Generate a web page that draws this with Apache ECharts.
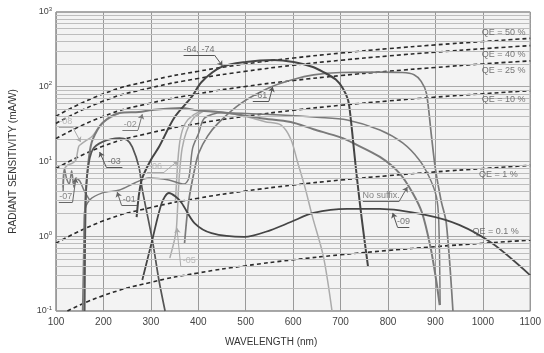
<!DOCTYPE html>
<html>
<head>
<meta charset="utf-8">
<script src="https://cdn.jsdelivr.net/npm/echarts@6/dist/echarts.min.js"></script>
<style>
html, body { margin: 0; padding: 0; background: #fff; }
#chart { width: 544px; height: 353px; }
</style>
</head>
<body>
<div id="chart"></div>
<script>
// axis ticks
const xTicks = [100, 200, 300, 400, 500, 600, 700, 800, 900, 1000, 1100];
const yDecades = [0.1, 1, 10, 100, 1000];
const yMinorSteps = [2, 3, 4, 5, 6, 7, 8, 9];

// QE reference lines  [nm, mA/W]
const qe50 = [[100, 40.3], [200, 80.6], [300, 121], [400, 161], [500, 202], [600, 242], [700, 282], [800, 323], [900, 363], [1000, 403], [1100, 444]];
const qe40 = [[100, 32.3], [200, 64.5], [300, 96.8], [400, 129], [500, 161], [600, 194], [700, 226], [800, 258], [900, 290], [1000, 323], [1100, 355]];
const qe25 = [[100, 20.2], [200, 40.3], [300, 60.5], [400, 80.6], [500, 101], [600, 121], [700, 141], [800, 161], [900, 181], [1000, 202], [1100, 222]];
const qe10 = [[100, 8.06], [200, 16.1], [300, 24.2], [400, 32.3], [500, 40.3], [600, 48.4], [700, 56.5], [800, 64.5], [900, 72.6], [1000, 80.6], [1100, 88.7]];
const qe1 = [[100, 0.806], [200, 1.61], [300, 2.42], [400, 3.23], [500, 4.03], [600, 4.84], [700, 5.65], [800, 6.45], [900, 7.26], [1000, 8.06], [1100, 8.87]];
const qe01 = [[124, 0.1], [200, 0.161], [300, 0.242], [400, 0.323], [500, 0.403], [600, 0.484], [700, 0.565], [800, 0.645], [900, 0.726], [1000, 0.806], [1100, 0.887]];

// spectral response curves  [nm, mA/W]
const s6474 = [[270, 1.8], [280, 5.5], [300, 10.5], [317, 15.6], [350, 39], [386, 73], [407, 116], [449, 184], [500, 215], [559, 228], [601, 214], [640, 185], [664, 157], [690, 125], [705, 95], [716, 66], [722, 35], [728, 15], [735, 5.7], [745, 1.65], [758, 0.39]];
const s61 = [[371, 0.8], [380, 3], [392, 7.7], [401, 13], [420, 22], [442, 32.7], [490, 60], [553, 99], [600, 125], [643, 144], [700, 155], [783, 157], [830, 155], [855, 145], [870, 118], [881, 82], [891, 24], [900, 8], [912, 3], [923, 1.5], [937, 0.1]];
const s02 = [[160, 0.1], [161, 2], [163, 4.2], [170, 12], [177, 19.4], [198, 32.7], [234, 44.6], [275, 46], [303, 48.9], [365, 52], [392, 49], [463, 44.6], [532, 38], [595, 33.7], [643, 27], [700, 21], [726, 17.7], [783, 11.5], [824, 7], [852, 3.8], [872, 2.05], [890, 0.7], [902, 0.25], [909, 0.12]];
const s01 = [[156, 0.1], [159, 1], [160, 2.05], [171, 3.05], [198, 3.8], [234, 4.16], [267, 5.2], [296, 6.0], [338, 5.65], [370, 5.0], [380, 6], [388, 15], [401, 24], [413, 38], [449, 45], [500, 44], [574, 41.9], [650, 39], [714, 35.9], [783, 26.4], [831, 17.7], [866, 10.5], [887, 6.2], [902, 3.4], [907, 1.65], [910, 0.12]];
const s03 = [[160, 0.1], [163, 3], [167, 7.7], [177, 14.3], [198, 18.3], [234, 20.6], [250, 19.4], [261, 15.6], [275, 8.4], [282, 4.2], [303, 0.9], [317, 0.26], [330, 0.1]];
const s07 = [[115, 4], [118, 8], [122, 6], [128, 5], [133, 7.5], [138, 4.5], [142, 6], [150, 5.5], [160, 4], [171, 3.05]];
const s08 = [[114, 4.5], [117, 7.7], [125, 9], [135, 9.5], [142, 10.5], [148, 16], [155, 17.5], [163, 19], [177, 22], [198, 33], [234, 44.6]];
const s06 = [[352, 3], [357, 10.2], [362, 20], [372, 32], [390, 42], [410, 47], [450, 46], [500, 40], [541, 34], [574, 30.8], [595, 20], [609, 10], [625, 4.5], [641, 1.8], [664, 0.53], [682, 0.1]];
const s05 = [[340, 0.51], [350, 0.9], [354, 1.29], [358, 4], [361, 7.7], [366, 15], [375, 25], [390, 38], [410, 47]];
const s09 = [[282, 0.26], [302, 0.84], [323, 2.79], [338, 3.79], [352, 3.4], [365, 2.79], [392, 1.5], [428, 1.1], [497, 0.98], [553, 1.21], [595, 1.55], [643, 2.05], [714, 2.32], [783, 2.32], [881, 1.92], [950, 1.42], [1019, 0.81], [1100, 0.30]];

const chart = echarts.init(document.getElementById('chart'));

const dark = '#454545';
const mid = '#7a7a7a';
const light = '#ababab';
const font = 'Liberation Sans, Arial, sans-serif';

// minor horizontal gridlines of the log scale
const minorLines = [];
yDecades.slice(0, -1).forEach(d => yMinorSteps.forEach(k => minorLines.push({ yAxis: d * k })));

function curve(name, data, color, width) {
  return {
    name: name, type: 'line', data: data, smooth: 0.3, symbol: 'none',
    lineStyle: { color: color, width: width }, z: 4, silent: true
  };
}

function qeLine(data) {
  return {
    type: 'line', data: data, smooth: true, symbol: 'none', z: 3, silent: true,
    lineStyle: { color: '#2a2a2a', width: 1.6, type: [4, 3] }
  };
}

// annotation flags: underline from -> to, leader to -> tip
const notes = [
  { text: '-64, -74', from: [369, 266], to: [434, 266], tip: [451, 190], color: '#555' },
  { text: '-61', from: [515, 64], to: [549, 64], tip: [557, 100], color: '#555' },
  { text: '-02', from: [240, 26.4], to: [273, 26.4], tip: [282, 43], color: '#777' },
  { text: '-08', from: [106, 29], to: [135, 29], tip: [152, 18.2], color: '#aaa' },
  { text: '-03', from: [240, 8.4], to: [206, 8.4], tip: [192, 13.4], color: '#555' },
  { text: '-06', from: [292, 7.2], to: [328, 7.2], tip: [357, 10.2], color: '#aaa' },
  { text: '-07', from: [106, 2.87], to: [135, 2.87], tip: [142, 6.0], color: '#666' },
  { text: '-01', from: [271, 2.62], to: [238, 2.62], tip: [229, 3.9], color: '#666' },
  { text: '-05', from: [399, 0.40], to: [363, 0.40], tip: [355, 1.29], color: '#aaa' },
  { text: 'No suffix.', from: [747, 2.96], to: [824, 2.96], tip: [841, 4.56], color: '#666' },
  { text: '-09', from: [845, 1.33], to: [820, 1.33], tip: [810, 2.05], color: '#555' }
];

const qeNotes = [
  { text: 'QE = 50 %', at: [1044, 524] },
  { text: 'QE = 40 %', at: [1044, 266] },
  { text: 'QE = 25 %', at: [1044, 163] },
  { text: 'QE = 10 %', at: [1044, 66.5] },
  { text: 'QE = 1 %', at: [1033, 6.6] },
  { text: 'QE = 0.1 %', at: [1027, 1.14] }
];

const noteSegs = [];
notes.forEach(n => {
  noteSegs.push([{ coord: n.from, symbol: 'none' }, { coord: n.to, symbol: 'none', lineStyle: { color: n.color } }]);
  noteSegs.push([{ coord: n.to, symbol: 'none' }, { coord: n.tip, symbol: 'arrow', symbolSize: 5, lineStyle: { color: n.color } }]);
});

const option = {
  animation: false,
  grid: {
    left: 53, right: 12, top: 12, bottom: 42,
    show: true, backgroundColor: '#f3f3f3', borderColor: '#555', borderWidth: 1
  },
  xAxis: {
    type: 'value', min: 100, max: 1100, interval: 100,
    name: 'WAVELENGTH (nm)', nameLocation: 'middle', nameGap: 26,
    nameTextStyle: { fontFamily: font, fontSize: 10, color: '#333', padding: [0, 44, 0, 0] },
    axisLine: { show: false }, axisTick: { show: false },
    axisLabel: { fontFamily: font, fontSize: 10, color: '#444', margin: 6, formatter: v => String(v) },
    splitLine: { lineStyle: { color: '#999', width: 1 } }
  },
  yAxis: {
    type: 'log', logBase: 10, min: 0.1, max: 1000,
    name: 'RADIANT SENSITIVITY (mA/W)', nameLocation: 'middle', nameGap: 38,
    nameTextStyle: { fontFamily: font, fontSize: 10, color: '#333' },
    axisLine: { show: false }, axisTick: { show: false },
    axisLabel: {
      margin: 4,
      formatter: v => '{b|10}{s|' + Math.round(Math.log10(v)) + '}',
      rich: {
        b: { fontFamily: font, fontSize: 9, color: '#444', lineHeight: 12 },
        s: { fontFamily: font, fontSize: 6, color: '#444', lineHeight: 12, verticalAlign: 'top', padding: [0, 0, 6, 0] }
      }
    },
    splitLine: { lineStyle: { color: '#a8a8a8', width: 1 } }
  },
  series: [
    {
      type: 'line', data: [[100, 1]], symbol: 'none', silent: true, z: 1,
      lineStyle: { opacity: 0 },
      markLine: {
        silent: true, symbol: 'none', label: { show: false },
        lineStyle: { color: '#bdbdbd', width: 1, type: 'solid' },
        data: minorLines
      }
    },
    qeLine(qe50), qeLine(qe40), qeLine(qe25), qeLine(qe10), qeLine(qe1), qeLine(qe01),
    curve('-08', s08, light, 1.5),
    curve('-05', s05, light, 1.5),
    curve('-06', s06, light, 1.5),
    curve('-07', s07, mid, 1.5),
    curve('-01', s01, mid, 1.5),
    curve('-02', s02, mid, 2),
    curve('-03', s03, '#555', 1.7),
    curve('-61', s61, mid, 1.7),
    curve('-09', s09, dark, 1.8),
    curve('-64, -74', s6474, dark, 2),
    {
      type: 'scatter', symbolSize: 0, silent: true, z: 6,
      data: notes.map(n => ({
        value: [(n.from[0] + n.to[0]) / 2, n.from[1]],
        label: { show: true, position: 'top', distance: 1, formatter: n.text, color: n.color, fontFamily: font, fontSize: 9 }
      })),
      markLine: {
        silent: true, label: { show: false }, symbol: 'none',
        lineStyle: { color: '#666', width: 1, type: 'solid' },
        data: noteSegs
      }
    },
    {
      type: 'scatter', symbolSize: 0, silent: true, z: 6,
      data: qeNotes.map(n => ({
        value: n.at,
        label: { show: true, position: 'inside', formatter: n.text, color: '#555', fontFamily: font, fontSize: 9 }
      }))
    }
  ]
};

chart.setOption(option);
</script>
</body>
</html>
